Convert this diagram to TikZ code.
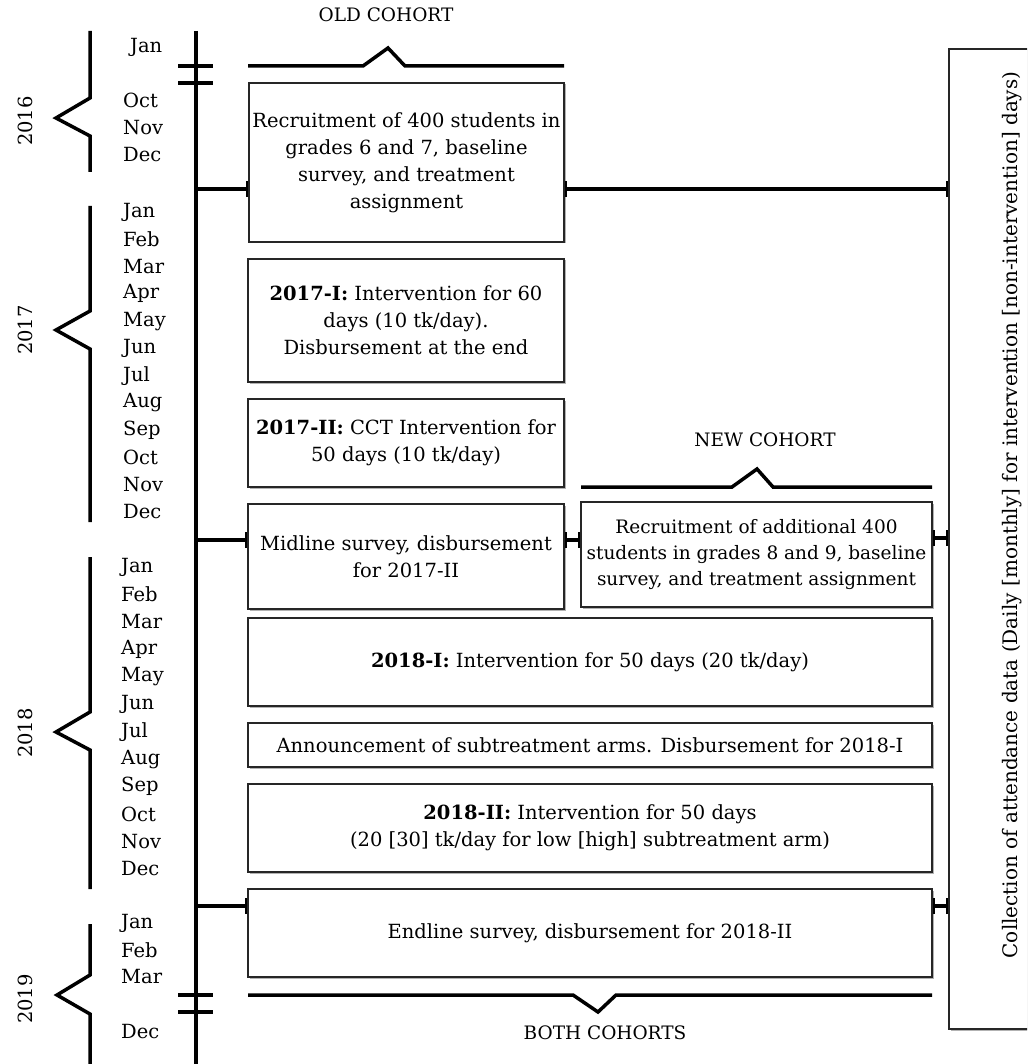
\documentclass[tikz,border=0pt]{standalone}
\usepackage{fontspec}
\setmainfont{DejaVu Serif}
\usetikzlibrary{arrows.meta,shadows}
\newcommand\mainfs{\fontsize{19.5pt}{27pt}\selectfont}
\newcommand\labfs{\fontsize{18.5pt}{24pt}\selectfont}
\begin{document}
\begin{tikzpicture}[x=1pt,y=-1pt,
  thickline/.style={line width=3.5pt},
  box/.style={draw=black!85,line width=1.2pt,fill=white,align=center,inner sep=2pt,font=\mainfs,
    drop shadow={shadow xshift=1.5pt,shadow yshift=-1.5pt,opacity=0.3,fill=black}},
  conn/.style={line width=3.5pt,-{Bar[width=16pt,line width=2pt]}},
  conntwo/.style={line width=3.5pt,{Bar[width=16pt,line width=2pt]}-{Bar[width=16pt,line width=2pt]}},
  mon/.style={anchor=west,font=\mainfs,inner sep=0pt},
  yr/.style={rotate=90,font=\mainfs,inner sep=0pt},
  lab/.style={font=\labfs,inner sep=0pt}]
\useasboundingbox (0,0) rectangle (1027,1064);
\clip (0,0) rectangle (1027,1064);

% main timeline
\draw[thickline] (196,31) -- (196,1064);
\draw[thickline] (178,66) -- (213,66) (178,83) -- (213,83);
\draw[thickline] (178,995) -- (213,995) (178,1012) -- (213,1012);

% year braces
\draw[thickline] (90,31) -- (90,98) -- (56,118) -- (90,136) -- (90,172);
\draw[thickline] (90,206) -- (90,311) -- (56,330) -- (90,349) -- (90,522);
\draw[thickline] (90,557) -- (90,712) -- (56,732) -- (90,750) -- (90,889);
\draw[thickline] (90,924) -- (90,975) -- (57,995) -- (90,1014) -- (90,1064);

% year labels
\node[yr] (y16) at (25,121) {2016};
\node[yr] (y17) at (25,330) {2017};
\node[yr] (y18) at (25,733) {2018};
\node[yr] (y19) at (25,999) {2019};

% months
\node[mon] (m0) at (130,47) {Jan};
\node[mon] (m1) at (123,100) {Oct};
\node[mon] (m2) at (123,128) {Nov};
\node[mon] (m3) at (123,155) {Dec};
\foreach \m [count=\i from 0] in {Jan,Feb,Mar,Apr,May,Jun,Jul,Aug,Sep,Oct,Nov,Dec}{
  \node[mon] (a\i) at (123,{212+27.27*\i}) {\m};
  \node[mon] (b\i) at (121,{567+27.45*\i}) {\m};
}
\node[mon] (c0) at (121,923) {Jan};
\node[mon] (c1) at (121,950) {Feb};
\node[mon] (c2) at (121,977) {Mar};
\node[mon] (c3) at (121,1032) {Dec};

% cohort labels and brackets
\node[lab] (old) at (386,15) {OLD COHORT};
\draw[thickline] (248,66) -- (363,66) -- (388,48) -- (405,66) -- (564,66);
\node[lab] (new) at (765,440) {NEW COHORT};
\draw[thickline] (581,487) -- (732,487) -- (757,469) -- (773,487) -- (932,487);
\node[lab] (both) at (605,1033) {BOTH COHORTS};
\draw[thickline] (248,995) -- (573,995) -- (598,1012) -- (616,995) -- (932,995);

% boxes
\node[box,minimum width=315pt,minimum height=159pt] (b1) at (406.5,162.5)
  {Recruitment of 400 students in\\grades 6 and 7, baseline\\survey, and treatment\\assignment};
\node[box,minimum width=316pt,minimum height=123pt] (b2) at (406,320.5)
  {\textbf{2017-I:} Intervention for 60\\days (10 tk/day).\\Disbursement at the end};
\node[box,minimum width=316pt,minimum height=88pt] (b3) at (406,443)
  {\textbf{2017-II:} CCT Intervention for\\50 days (10 tk/day)};
\node[box,minimum width=316pt,minimum height=105pt] (b4) at (406,556.5)
  {Midline survey, disbursement\\for 2017-II};
\node[box,minimum width=351pt,minimum height=105pt,inner sep=0pt,font=\fontsize{18.5pt}{26pt}\selectfont] (nb) at (756.5,554.5)
  {Recruitment of additional 400\\students in grades 8 and 9, baseline\\survey, and treatment assignment};
\node[box,minimum width=684pt,minimum height=88pt] (b5) at (590,662)
  {\textbf{2018-I:} Intervention for 50 days (20 tk/day)};
\node[box,minimum width=684pt,minimum height=44pt] (b6) at (590,745)
  {Announcement of subtreatment arms. Disbursement for 2018-I};
\node[box,minimum width=684pt,minimum height=88pt] (b7) at (590,828)
  {\textbf{2018-II:} Intervention for 50 days\\(20 [30] tk/day for low [high] subtreatment arm)};
\node[box,minimum width=684pt,minimum height=88pt] (b8) at (590,933)
  {Endline survey, disbursement for 2018-II};
\node[box,minimum width=126pt,minimum height=980pt] (rb) at (1012,539)
  {\rotatebox{90}{\fontsize{20pt}{24pt}\selectfont\hspace{48pt}Collection of attendance data (Daily [monthly] for intervention [non-intervention] days)}};

% connectors
\coordinate (t1) at (196,189);
\coordinate (t2) at (196,540);
\coordinate (t3) at (196,906);
\draw[conn] (t1) -- (t1 -| b1.west);
\draw[conn] (t2) -- (t2 -| b4.west);
\draw[conn] (t3) -- (t3 -| b8.west);
\draw[conntwo] (t1 -| b1.east) -- (t1 -| rb.west);
\draw[conntwo] (t2 -| b4.east) -- (t2 -| nb.west);
\draw[conntwo] ([yshift=2pt]t2 -| nb.east) -- ([yshift=2pt]t2 -| rb.west);
\draw[conntwo] (t3 -| b8.east) -- (t3 -| rb.west);
\end{tikzpicture}
\end{document}
